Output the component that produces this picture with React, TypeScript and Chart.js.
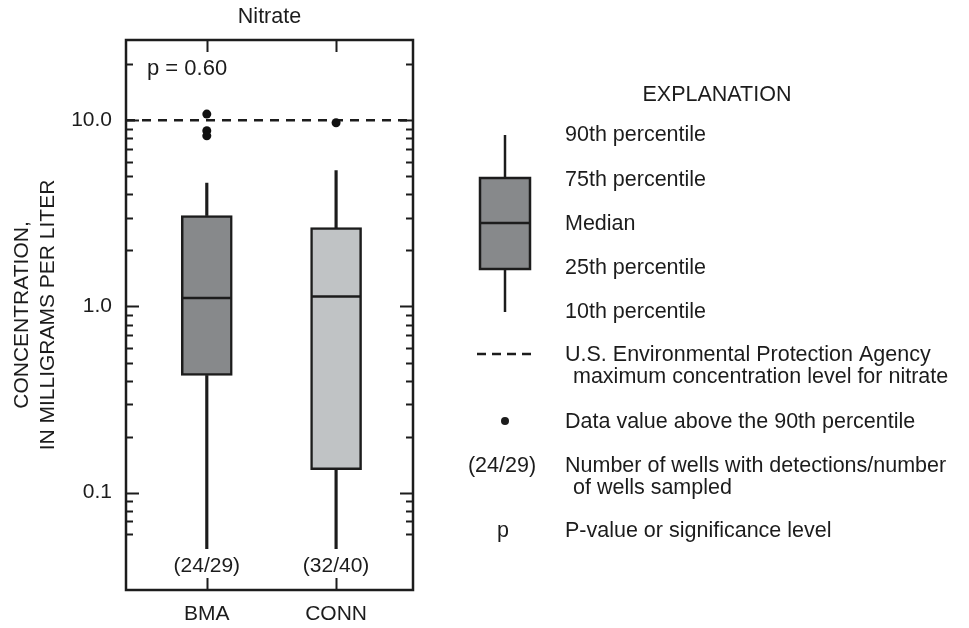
import { useEffect, useRef } from 'react';
import { Chart, registerables } from 'chart.js';

Chart.register(...registerables);

// Nitrate concentrations by study area (mg/L)
const sites = ['BMA', 'CONN'];
const sitePos = [1, 2];
const pct10 = [0.05, 0.05];
const pct25 = [0.426, 0.133];
const medians = [1.11, 1.13];
const pct75 = [3.08, 2.65];
const pct90 = [4.6, 5.37];
const outliersBMA = [10.8, 8.8, 8.25];
const outliersCONN = [9.7];
const wellCounts = ['(24/29)', '(32/40)'];
const boxFills = ['#87898b', '#c0c3c5'];
const epaLimit = 10;
const pLabel = 'p = 0.60';

const yMin = 0.03;
const yMax = 27;
const xMin = 0.375;
const xMax = 2.595;
const majorTicks = [0.1, 1, 10];
const majorLabels = ['0.1', '1.0', '10.0'];
const minorTicks = [
  0.06, 0.07, 0.08, 0.09,
  0.2, 0.3, 0.4, 0.5, 0.6, 0.7, 0.8, 0.9,
  2, 3, 4, 5, 6, 7, 8, 9,
  20,
];

const INK = '#1c1c1c';
const FONT = '"Liberation Sans", Arial, Helvetica, sans-serif';

const decorations = {
  id: 'decorations',
  afterDraw(chart: any) {
    const { ctx, chartArea } = chart;
    const { left, right, top, bottom } = chartArea;
    const ys = chart.scales.y;
    const xs = chart.scales.x;
    ctx.save();

    // frame
    ctx.strokeStyle = INK;
    ctx.lineWidth = 2.5;
    ctx.setLineDash([]);
    ctx.strokeRect(left, top, right - left, bottom - top);

    // inward ticks on both vertical sides
    ctx.lineWidth = 2;
    const tick = (v: number, len: number) => {
      const y = Math.round(ys.getPixelForValue(v)) + 0.5;
      ctx.beginPath();
      ctx.moveTo(left, y);
      ctx.lineTo(left + len, y);
      ctx.moveTo(right, y);
      ctx.lineTo(right - len, y);
      ctx.stroke();
    };
    majorTicks.forEach((v) => tick(v, 13));
    minorTicks.forEach((v) => tick(v, 7));

    // category ticks on top and bottom
    sitePos.forEach((p) => {
      const x = Math.round(xs.getPixelForValue(p)) + 0.5;
      ctx.beginPath();
      ctx.moveTo(x, top);
      ctx.lineTo(x, top + 12);
      ctx.moveTo(x, bottom);
      ctx.lineTo(x, bottom - 12);
      ctx.stroke();
    });

    ctx.fillStyle = INK;
    ctx.textBaseline = 'middle';

    // well counts under each box
    ctx.font = `21px ${FONT}`;
    ctx.textAlign = 'center';
    sitePos.forEach((p, i) => {
      ctx.fillText(wellCounts[i], xs.getPixelForValue(p), bottom - 24);
    });

    // significance
    ctx.textAlign = 'left';
    ctx.font = `22px ${FONT}`;
    ctx.fillText(pLabel, left + 21, 69);

    // title
    ctx.textAlign = 'center';
    ctx.font = `21.5px ${FONT}`;
    ctx.fillText('Nitrate', (left + right) / 2, 17);

    // explanation
    ctx.font = `21.5px ${FONT}`;
    ctx.fillText('EXPLANATION', 717, 95);

    const bx = 505;
    ctx.lineWidth = 2.5;
    ctx.beginPath();
    ctx.moveTo(bx, 135);
    ctx.lineTo(bx, 312);
    ctx.stroke();
    ctx.fillStyle = boxFills[0];
    ctx.fillRect(480, 178, 50, 91);
    ctx.strokeRect(480, 178, 50, 91);
    ctx.beginPath();
    ctx.moveTo(480, 223);
    ctx.lineTo(530, 223);
    ctx.stroke();

    ctx.fillStyle = INK;
    ctx.textAlign = 'left';
    const tx = 565;
    const tx2 = 573;
    ctx.fillText('90th percentile', tx, 135);
    ctx.fillText('75th percentile', tx, 180);
    ctx.fillText('Median', tx, 224);
    ctx.fillText('25th percentile', tx, 268);
    ctx.fillText('10th percentile', tx, 312);

    ctx.lineWidth = 2.5;
    ctx.setLineDash([9, 6]);
    ctx.beginPath();
    ctx.moveTo(477, 354);
    ctx.lineTo(531, 354);
    ctx.stroke();
    ctx.setLineDash([]);
    ctx.fillText('U.S. Environmental Protection Agency', tx, 355);
    ctx.fillText('maximum concentration level for nitrate', tx2, 377);

    ctx.beginPath();
    ctx.arc(bx, 421, 4, 0, Math.PI * 2);
    ctx.fill();
    ctx.fillText('Data value above the 90th percentile', tx, 422);

    ctx.textAlign = 'center';
    ctx.fillText('(24/29)', 502, 466);
    ctx.fillText('p', 503, 531);
    ctx.textAlign = 'left';
    ctx.fillText('Number of wells with detections/number', tx, 466);
    ctx.fillText('of wells sampled', tx2, 488);
    ctx.fillText('P-value or significance level', tx, 531);

    ctx.restore();
  },
};

export default function App() {
  const canvasRef = useRef<HTMLCanvasElement | null>(null);

  useEffect(() => {
    const canvas = canvasRef.current;
    if (!canvas) return;
    Chart.defaults.font.family = FONT;
    Chart.defaults.color = INK;

    const chart = new Chart(canvas, {
      type: 'bar',
      data: {
        datasets: [
          {
            type: 'bar',
            label: 'lower whisker',
            data: sitePos.map((x, i) => ({ x, y: [pct10[i], pct25[i]] })) as any,
            backgroundColor: INK,
            barThickness: 2.5,
            grouped: false,
            order: 6,
          },
          {
            type: 'bar',
            label: 'upper whisker',
            data: sitePos.map((x, i) => ({ x, y: [pct75[i], pct90[i]] })) as any,
            backgroundColor: INK,
            barThickness: 2.5,
            grouped: false,
            order: 5,
          },
          {
            type: 'bar',
            label: 'interquartile range',
            data: sitePos.map((x, i) => ({ x, y: [pct25[i], pct75[i]] })) as any,
            backgroundColor: boxFills,
            borderColor: INK,
            borderWidth: 2.5,
            borderSkipped: false,
            barThickness: 51,
            grouped: false,
            order: 4,
          },
          {
            type: 'scatter',
            label: 'median',
            data: sitePos.map((x, i) => ({ x, y: medians[i] })),
            pointStyle: 'line',
            radius: 24,
            borderColor: INK,
            borderWidth: 2.5,
            order: 3,
          },
          {
            type: 'line',
            label: 'EPA maximum contaminant level',
            data: [
              { x: xMin, y: epaLimit },
              { x: xMax, y: epaLimit },
            ],
            borderColor: INK,
            borderWidth: 2.5,
            borderDash: [9, 7],
            pointRadius: 0,
            order: 2,
          },
          {
            type: 'scatter',
            label: 'above 90th percentile',
            data: [
              ...outliersBMA.map((y) => ({ x: sitePos[0], y })),
              ...outliersCONN.map((y) => ({ x: sitePos[1], y })),
            ],
            pointStyle: 'circle',
            radius: 4.5,
            backgroundColor: '#111',
            borderWidth: 0,
            order: 1,
          },
        ],
      },
      options: {
        responsive: false,
        animation: false,
        events: [],
        layout: { padding: { left: 0, top: 40, right: 556, bottom: 0 } },
        plugins: {
          legend: { display: false },
          tooltip: { enabled: false },
          title: { display: false },
        },
        scales: {
          x: {
            type: 'linear',
            offset: false,
            min: xMin,
            max: xMax,
            grid: { display: false, drawTicks: false, offset: false },
            border: { display: false },
            afterBuildTicks: (axis: any) => {
              axis.ticks = sitePos.map((value) => ({ value }));
            },
            afterFit: (axis: any) => {
              axis.height = 38;
            },
            ticks: {
              autoSkip: false,
              maxRotation: 0,
              padding: 12,
              color: INK,
              font: { size: 21, family: FONT },
              callback: (v: any) => sites[sitePos.indexOf(Number(v))] ?? '',
            },
          },
          y: {
            type: 'logarithmic',
            min: yMin,
            max: yMax,
            grid: { display: false, drawTicks: false },
            border: { display: false },
            afterBuildTicks: (axis: any) => {
              axis.ticks = majorTicks.map((value) => ({ value, major: true }));
            },
            afterFit: (axis: any) => {
              axis.width = 126;
            },
            ticks: {
              autoSkip: false,
              padding: 14,
              color: INK,
              font: { size: 21, family: FONT },
              callback: (v: any) => majorLabels[majorTicks.indexOf(Number(v))] ?? '',
            },
            title: {
              display: true,
              text: ['CONCENTRATION,', 'IN MILLIGRAMS PER LITER'],
              color: INK,
              font: { size: 21, family: FONT, lineHeight: 1.2 },
              padding: { top: 10, bottom: 0 },
            },
          },
        },
      },
      plugins: [decorations],
    } as any);

    return () => chart.destroy();
  }, []);

  return (
    <div style={{ position: 'fixed', left: 0, top: 0, width: 969, height: 628, background: '#fff' }}>
      <canvas ref={canvasRef} width={969} height={628} style={{ display: 'block' }} />
    </div>
  );
}
